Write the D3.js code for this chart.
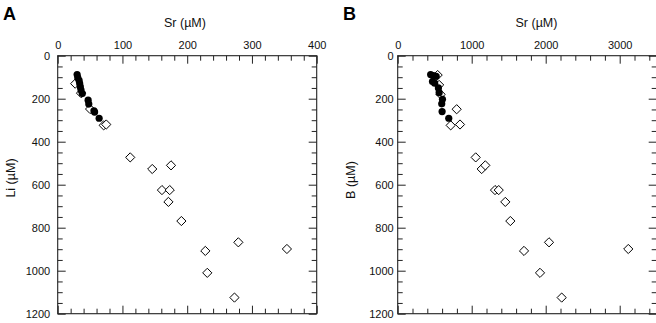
<!DOCTYPE html>
<html><head><meta charset="utf-8">
<script src="https://cdn.jsdelivr.net/npm/d3@7/dist/d3.min.js"></script>
<style>
body{margin:0;background:#fff;}
svg{display:block;font-family:"Liberation Sans",Arial,Helvetica,sans-serif;}
</style></head>
<body>
<svg id="c" width="656" height="323"></svg>
<script>
// Panel A: Sr vs Li
const aCircleSr = [30, 31, 33, 34, 35, 36, 38, 47, 48, 56, 57, 64];
const aCircleLi = [88, 102, 115, 130, 145, 160, 176, 207, 225, 256, 262, 291];
const aDiamondSr = [27, 36, 50, 71, 75, 112, 146, 175, 161, 173, 171, 191, 228, 279, 354, 231, 273];
const aDiamondLi = [130, 174, 248, 324, 320, 473, 527, 510, 625, 625, 680, 769, 908, 868, 899, 1010, 1125];
// Panel B: Sr vs B
const bCircleSr = [445, 480, 520, 470, 500, 550, 560, 605, 595, 600, 690];
const bCircleB = [88, 92, 96, 120, 128, 150, 172, 203, 224, 260, 291];
const bDiamondSr = [540, 560, 580, 797, 716, 842, 1054, 1135, 1184, 1315, 1365, 1454, 1522, 1707, 2045, 3116, 1923, 2216];
const bDiamondB = [90, 136, 180, 249, 324, 320, 473, 527, 510, 625, 625, 680, 769, 908, 868, 899, 1010, 1125];

const xTicksA = [0, 100, 200, 300, 400];
const xTicksB = [0, 1000, 2000, 3000];
const yTicks = [0, 200, 400, 600, 800, 1000, 1200];

const svg = d3.select("#c");
const plotTop = 55.7, plotBottom = 313.7;

function panel(o) {
  const x = d3.scaleLinear().domain(o.xDomain).range([o.left, o.left + 259]);
  const y = d3.scaleLinear().domain([0, 1200]).range([plotTop, plotBottom]);
  const g = svg.append("g");
  const minorX = d3.range(0, o.xDomain[1] + 1e-9, o.xMinor).filter(v => o.xMajor.indexOf(v) < 0 && v < o.xDomain[1]);
  const minorY = d3.range(0, 1201, 50).filter(v => v % 200 !== 0);

  function ax(gen, tr, vals, size, labels, pad) {
    const a = g.append("g").attr("transform", tr)
      .call(gen.tickValues(vals).tickSizeInner(-size).tickSizeOuter(0).tickPadding(pad)
        .tickFormat(labels ? d3.format("d") : () => ""));
    a.select(".domain").remove();
    a.selectAll("line").attr("stroke", "#222").attr("stroke-width", 1);
    a.selectAll("text").attr("font-size", 11).attr("fill", "#111")
      .attr("font-family", '"Liberation Sans",Arial,sans-serif');
    return a;
  }
  const xr = x.range();
  ax(d3.axisTop(x), `translate(0,${plotTop})`, o.xMajor, 8, true, 6.4);
  ax(d3.axisTop(x), `translate(0,${plotTop})`, minorX, 5, false, 3);
  ax(d3.axisBottom(x), `translate(0,${plotBottom})`, o.xMajor, 8, false, 3);
  ax(d3.axisBottom(x), `translate(0,${plotBottom})`, minorX, 5, false, 3);
  ax(d3.axisLeft(y), `translate(${xr[0]},0)`, yTicks, 8, true, o.yPad);
  ax(d3.axisLeft(y), `translate(${xr[0]},0)`, minorY, 5, false, 3);
  ax(d3.axisRight(y), `translate(${xr[1]},0)`, yTicks, 8, false, 3);
  ax(d3.axisRight(y), `translate(${xr[1]},0)`, minorY, 5, false, 3);

  g.append("rect").attr("x", xr[0]).attr("y", plotTop).attr("width", xr[1] - xr[0]).attr("height", plotBottom - plotTop)
    .attr("fill", "none").attr("stroke", "#222").attr("stroke-width", 1.1);

  const dr = 4.6;
  g.append("g").selectAll("path").data(o.dSr.map((v, i) => [v, o.dY[i]])).join("path")
    .attr("d", d => {
      const cx = x(d[0]), cy = y(d[1]);
      return `M${cx},${cy - dr}L${cx + dr},${cy}L${cx},${cy + dr}L${cx - dr},${cy}Z`;
    })
    .attr("fill", "#fff").attr("stroke", "#000").attr("stroke-width", 1);
  g.append("g").selectAll("circle").data(o.cSr.map((v, i) => [v, o.cY[i]])).join("circle")
    .attr("cx", d => x(d[0])).attr("cy", d => y(d[1])).attr("r", 3.6).attr("fill", "#000");

  svg.append("text").attr("x", o.letterX).attr("y", 20).attr("font-size", 18).attr("font-weight", "bold")
    .attr("fill", "#000").text(o.letter);
  svg.append("text").attr("x", o.xTitleX).attr("y", 27).attr("text-anchor", "middle").attr("font-size", 12.5)
    .attr("fill", "#111").text("Sr (µM)");
  svg.append("text").attr("transform", `translate(${o.yTitleX},${o.yTitleY}) rotate(-90)`)
    .attr("text-anchor", "middle").attr("font-size", 12.5).attr("fill", "#111").text(o.yTitle);
}

panel({
  xDomain: [0, 400], left: 57.7, xMajor: xTicksA, xMinor: 20, yPad: 7.5,
  cSr: aCircleSr, cY: aCircleLi, dSr: aDiamondSr, dY: aDiamondLi,
  letter: "A", letterX: 3, xTitleX: 185, yTitle: "Li (µM)", yTitleX: 15, yTitleY: 178
});
panel({
  xDomain: [0, 3500], left: 397.7, xMajor: xTicksB, xMinor: 200, yPad: 4,
  cSr: bCircleSr, cY: bCircleB, dSr: bDiamondSr, dY: bDiamondB,
  letter: "B", letterX: 343, xTitleX: 536.5, yTitle: "B (µM)", yTitleX: 355, yTitleY: 180
});
</script>
</body></html>
